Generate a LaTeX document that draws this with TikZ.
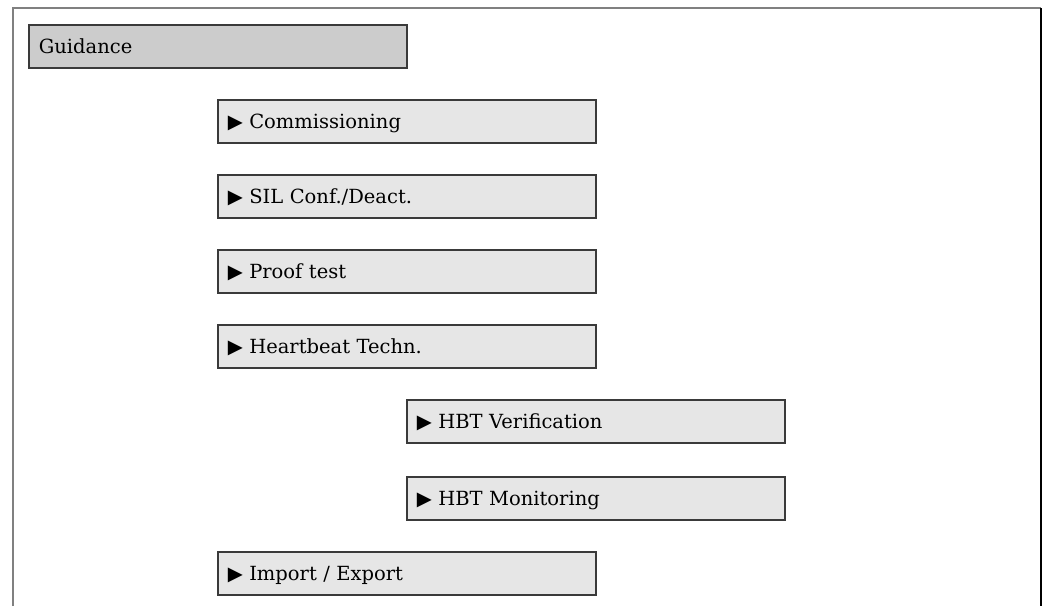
\documentclass[tikz,border=0pt]{standalone}
\usepackage{fontspec}
\setmainfont{DejaVu Serif}
\usepackage{tikz}

\definecolor{menuline}{HTML}{3A3A3A}
\definecolor{menufill}{HTML}{E6E6E6}
\definecolor{headfill}{HTML}{CCCCCC}

\tikzset{
  menu/.style={draw=menuline, line width=1.6pt, fill=menufill, anchor=north west,
    minimum width=378pt, minimum height=43pt, text width=358pt, align=left,
    inner xsep=10pt, text height=14pt, text depth=0pt, font=\fontsize{19.5}{22}\selectfont},
  head/.style={menu, fill=headfill, inner xsep=9pt}
}

\begin{document}
\begin{tikzpicture}[x=1pt, y=-1pt]
	\useasboundingbox (0,0) rectangle (1045,606);

	% Frame
	\draw[gray, line width=1.4pt] (13,606) -- (13,8) -- (1041,8);
	\draw[black, line width=2.2pt] (1041,8) -- (1041,606);

	% Define nodes
	\node [head] (guid) at (28,24) {Guidance};
	\node [menu] (comm) at (217,99)  {▶ Commissioning};
	\node [menu] (sil)  at (217,174) {▶ SIL Conf./Deact.};
	\node [menu] (proof) at (217,249) {▶ Proof test};
	\node [menu] (hbt)  at (217,324) {▶ Heartbeat Techn.};
	\node [menu] (ver)  at (406,399) {▶ HBT Verification};
	\node [menu] (mon)  at (406,476) {▶ HBT Monitoring};
	\node [menu] (imp)  at (217,551) {▶ Import / Export};
\end{tikzpicture}
\end{document}
